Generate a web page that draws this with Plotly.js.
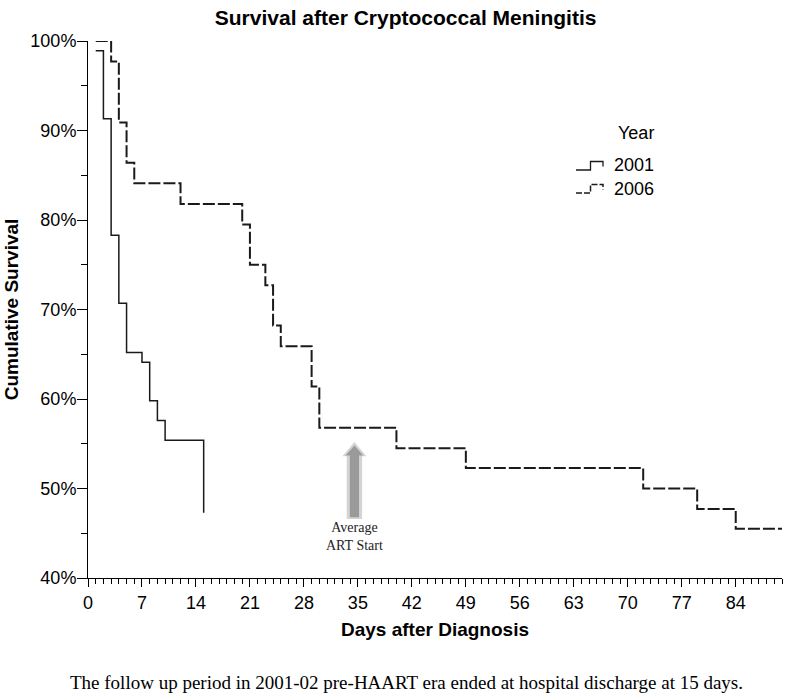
<!DOCTYPE html>
<html>
<head>
<meta charset="utf-8">
<script src="https://cdn.plot.ly/plotly-3.0.1.min.js"></script>
<style>html,body{margin:0;padding:0;background:#fff;}#chart{width:800px;height:694px;}</style>
</head>
<body>
<div id="chart"></div>
<script>
// ---- data ----
const days2001 = [1, 2, 3, 4, 5, 7, 8, 9, 10, 15];
const surv2001 = [98.9, 91.3, 78.3, 70.7, 65.2, 64.1, 59.8, 57.6, 55.4, 47.3];
const days2006 = [1, 3, 4, 5, 6, 12, 20, 21, 23, 24, 25, 29, 30, 40, 49, 72, 79, 84, 90];
const surv2006 = [100, 97.7, 90.9, 86.4, 84.1, 81.8, 79.5, 75.0, 72.7, 68.2, 65.9, 61.4, 56.8, 54.5, 52.3, 50.0, 47.7, 45.5, 45.5];
const xTicks = [0, 7, 14, 21, 28, 35, 42, 49, 56, 63, 70, 77, 84];
const yTicks = [40, 50, 60, 70, 80, 90, 100];
const seriesNames = ['2001', '2006'];
const artStartDay = 35;

// ---- layout helpers (pixel -> paper) ----
const W = 800, H = 694;
const M = {l: 88, r: 18, t: 41, b: 116};
const PW = W - M.l - M.r, PH = H - M.t - M.b;
const px = x => (x - M.l) / PW;
const py = y => (H - M.b - y) / PH;

const ink = '#1a1a1a';

const traces = [
  {x: days2001, y: surv2001, name: seriesNames[0], type: 'scatter', mode: 'lines',
   line: {shape: 'hv', color: ink, width: 1.5}, cliponaxis: false, showlegend: false},
  {x: days2006, y: surv2006, name: seriesNames[1], type: 'scatter', mode: 'lines',
   line: {shape: 'hv', color: ink, width: 2, dash: '12px,3px'}, cliponaxis: false, showlegend: false}
];

// legend glyphs (step icons) in paper coordinates
function glyph(y0, dash, w) {
  return {type: 'path', xref: 'paper', yref: 'paper',
    path: `M${px(576)},${py(y0)} L${px(590.5)},${py(y0)} L${px(590.5)},${py(y0 - 8.5)} L${px(603)},${py(y0 - 8.5)} L${px(603)},${py(y0 - 3.5)}`,
    line: {color: ink, width: w, dash: dash}};
}

// arrow (annotation graphic) in data coordinates around ART start day
const a = artStartDay - 0.45;
function arrowPath(hw, sw, tip, base, bottom) {
  return `M${a},${tip} L${a + hw},${base} L${a + sw},${base} L${a + sw},${bottom} L${a - sw},${bottom} L${a - sw},${base} L${a - hw},${base} Z`;
}

const layout = {
  width: W, height: H,
  margin: M,
  paper_bgcolor: '#fff', plot_bgcolor: '#fff',
  font: {family: 'Liberation Sans, Arial, sans-serif', color: '#000', size: 18},
  title: {text: '<b>Survival after Cryptococcal Meningitis</b>', font: {size: 21, color: '#000'},
    xref: 'container', yref: 'container', x: 0.507, y: 1 - 18 / H, xanchor: 'center', yanchor: 'middle'},
  xaxis: {range: [0, 90], tickvals: xTicks, ticktext: xTicks.map(String),
    ticks: 'outside', ticklen: 8, tickwidth: 1, tickcolor: '#000',
    showline: true, linecolor: '#000', linewidth: 1, showgrid: false, zeroline: false,
    minor: {dtick: 1, tick0: 0, ticks: 'outside', ticklen: 5, tickwidth: 1, tickcolor: '#000', showgrid: false},
    tickfont: {size: 18}, fixedrange: true,
    title: {text: '<b>Days after Diagnosis</b>', font: {size: 19}, standoff: 11}},
  yaxis: {range: [40, 100], tickvals: yTicks, ticktext: yTicks.map(v => v + '%'),
    ticks: 'outside', ticklen: 10, tickwidth: 1, tickcolor: '#000',
    showline: true, linecolor: '#000', linewidth: 1, showgrid: false, zeroline: false,
    minor: {dtick: 5, tick0: 40, ticks: 'outside', ticklen: 6, tickwidth: 1, tickcolor: '#000', showgrid: false},
    tickfont: {size: 18}, fixedrange: true, ticklabelstandoff: -3,
    title: {text: '<b>Cumulative Survival</b>', font: {size: 19}, standoff: 6}},
  shapes: [
    glyph(170, 'solid', 1.3),
    glyph(193, '6px,2px', 1.5),
    {type: 'path', xref: 'x', yref: 'y', path: arrowPath(1.55, 1.0, 55.2, 53.6, 46.6),
     fillcolor: '#d4d4d4', line: {width: 0}},
    {type: 'path', xref: 'x', yref: 'y', path: arrowPath(1.15, 0.6, 54.8, 53.7, 46.8),
     fillcolor: '#9a9a9a', line: {width: 0}}
  ],
  annotations: [
    {text: 'Year', xref: 'paper', yref: 'paper', x: px(616), y: py(133), xanchor: 'left', yanchor: 'middle',
     showarrow: false, font: {size: 18}},
    {text: seriesNames[0], xref: 'paper', yref: 'paper', x: px(612), y: py(165), xanchor: 'left', yanchor: 'middle',
     showarrow: false, font: {size: 18}},
    {text: seriesNames[1], xref: 'paper', yref: 'paper', x: px(612), y: py(189), xanchor: 'left', yanchor: 'middle',
     showarrow: false, font: {size: 18}},
    {text: 'Average<br>ART Start', xref: 'x', yref: 'paper', x: a, y: py(536), xanchor: 'center', yanchor: 'middle',
     showarrow: false, font: {family: 'Liberation Serif, Times New Roman, serif', size: 14, color: '#222'}},
    {text: 'The follow up period in 2001-02 pre-HAART era ended at hospital discharge at 15 days.',
     xref: 'paper', yref: 'paper', x: px(406), y: py(682), xanchor: 'center', yanchor: 'middle',
     showarrow: false, font: {family: 'Liberation Serif, Times New Roman, serif', size: 19, color: '#000'}}
  ]
};

Plotly.newPlot('chart', traces, layout, {displayModeBar: false, staticPlot: true});
</script>
</body>
</html>
